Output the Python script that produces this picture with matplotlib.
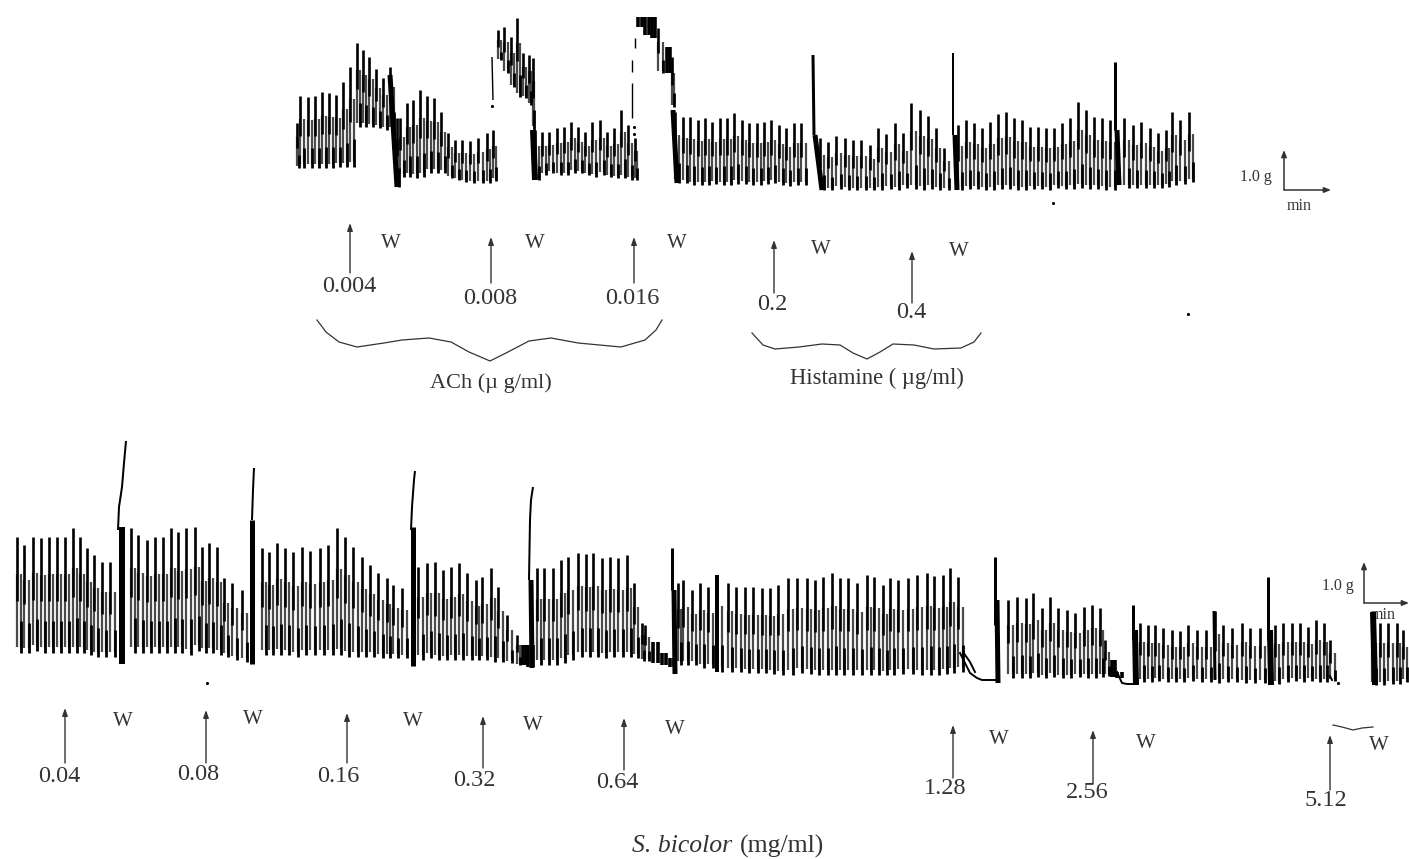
import matplotlib
matplotlib.use("Agg")
import matplotlib.pyplot as plt

# ---- upper recording (ACh / histamine): one beat = x, crest, trough (image units)
upper_x = [297,300,308,315,322,329,336,343,350,357,363,369,376,383,390,397,
           400,407,413,420,427,434,441,448,455,462,470,478,487,493,
           498,504,511,517,523,529,533,
           535,542,549,557,564,571,578,585,592,600,607,614,621,628,635,
           638,645,652,658,667,672,
           675,683,690,698,705,712,720,727,734,742,749,757,764,771,779,786,794,801,
           820,828,836,845,853,861,870,878,886,895,903,911,920,928,936,944,
           958,966,974,982,990,998,1006,1014,1022,1030,1038,1046,1054,1062,1070,1078,1086,1094,1102,1110,
           1124,1133,1141,1150,1158,1166,1172,1180,1189]
upper_hi = [123,96,97,96,92,93,95,82,67,43,50,57,69,78,67,118,
            118,103,100,90,96,98,112,133,140,140,141,138,133,130,
            30,27,37,18,53,55,58,
            130,132,132,128,127,122,127,132,122,120,132,128,110,125,138,
            17,17,17,28,47,57,
            112,117,117,120,118,122,118,118,113,120,123,123,122,120,125,128,123,123,
            138,142,136,138,140,140,145,128,134,123,133,103,110,116,128,148,
            125,120,123,128,122,114,112,118,120,127,127,128,128,123,118,102,110,117,118,120,
            118,125,122,128,133,130,112,120,112]
upper_lo = [168,168,168,168,168,168,167,167,167,127,127,127,128,130,130,187,
            177,177,178,177,173,173,173,178,180,182,183,183,183,181,
            60,73,87,97,98,105,130,
            180,175,173,175,175,173,173,175,177,175,177,178,178,180,180,
            27,35,38,73,73,107,
            183,183,185,185,185,184,185,185,184,184,185,185,184,183,185,186,185,185,
            190,190,189,190,190,190,190,190,189,190,188,189,190,189,190,190,
            190,189,189,190,190,189,189,190,190,189,189,190,188,189,189,188,189,189,190,190,
            188,188,188,188,188,187,185,184,182]

# ---- lower recording (S. bicolor)
lower_x = [17,24,33,41,49,57,65,73,80,87,94,102,110,
           131,138,147,155,163,171,178,186,195,202,209,217,224,232,242,
           262,269,277,285,293,302,310,320,328,337,345,353,362,370,378,387,393,402,
           418,427,435,443,451,459,467,476,482,491,498,507,517,523,528,
           537,544,553,561,568,578,586,593,602,610,618,627,634,642,645,653,662,670,
           678,683,692,700,708,717,728,736,745,753,762,770,778,788,797,807,815,823,832,840,848,
           857,867,874,883,890,898,908,917,927,934,943,950,958,
           1008,1017,1026,1033,1042,1050,1058,1067,1075,1084,1092,1100,1105,1112,1117,
           1140,1148,1155,1163,1172,1180,1188,1197,1206,1215,1223,1232,1242,1250,1260,
           1275,1283,1292,1300,1308,1316,1324,1330,
           1372,1380,1388,1397,1403]
lower_hi = [537,545,537,538,537,537,537,528,537,548,555,562,562,
            528,535,540,537,537,528,532,528,527,547,543,547,578,583,590,
            548,552,543,548,552,547,551,548,545,528,537,547,557,565,573,578,585,588,
            567,563,562,570,567,563,573,580,577,568,587,615,635,645,645,
            568,568,568,560,557,553,554,553,558,557,558,555,583,623,625,642,653,658,
            583,580,590,583,587,575,583,587,587,587,588,588,585,578,578,578,580,577,573,578,578,
            583,575,577,585,578,580,578,575,573,576,575,568,577,
            600,597,598,593,608,597,608,610,613,607,605,608,640,660,672,
            623,625,625,628,630,631,625,630,630,611,625,628,623,628,628,
            625,623,623,623,627,620,623,640,
            623,623,623,623,630]
lower_lo = [653,653,651,653,653,653,653,653,653,655,657,657,657,
            653,653,653,653,653,653,653,655,651,653,653,655,657,660,662,
            655,655,655,655,657,655,655,655,655,655,657,657,657,657,658,658,658,658,
            660,658,660,660,660,660,660,660,660,662,662,663,665,665,667,
            665,665,665,663,660,657,657,657,658,657,657,657,658,661,661,663,665,667,
            665,665,665,668,668,672,672,672,673,673,673,674,675,675,673,674,675,675,675,675,675,
            675,675,675,675,675,674,674,675,675,675,674,673,672,
            678,678,678,677,678,677,678,678,677,678,678,677,676,677,678,
            682,682,681,682,682,682,681,682,682,683,682,682,683,683,683,
            684,682,681,682,681,682,682,681,
            685,685,684,684,682]

# ---- recording pieces that are not ordinary beats (contracture rises, wash artefacts)
stroke_x = [[492,493],[632,632],[635,635],[632,632],[390,397],[533,535],[673,677],
            [813,814],[815,822],[953,953],[955,957],[1115,1115],[1117,1119],
            [126,124,122,119,118],[122,122],[254,253,252],[252,252],[415,414,412,411],[413,413],
            [533,531,530,529],[531,532],[672,672],[674,675],[717,717],
            [995,995],[997,998],[1133,1133],[1135,1136],[1268,1268],[1270,1271],[1214,1215],[1373,1375]]
stroke_y = [[57,100],[83,118],[38,48],[60,72],[75,187],[130,180],[110,183],
            [55,135],[135,190],[53,135],[135,190],[62,130],[130,185],
            [441,463,487,507,530],[527,664],[468,490,520],[520,664],[471,480,507,530],[527,666],
            [487,500,520,580],[580,668],[548,590],[590,674],[575,672],
            [557,625],[600,683],[605,640],[630,685],[577,640],[630,685],[611,680],[612,685]]
stroke_w = [1.4,1.4,1.4,1.4,5,6,5,
            3,5,2,5,3,5,
            2,6,2,5,2,5,
            2,5,3,5,4,
            3,5,3,6,3,6,3,6]

# baseline stretches after a wash
flat_x = [[960,970,977,982,995],[1117,1122,1127,1135],[963,970,975],[1330,1332]]
flat_y = [[653,673,678,680,680],[672,683,684,684],[652,662,672],[676,680]]
speck_x = [492,1053,1188,207,1338,634,634]
speck_y = [106,203,314,683,683,127,134]

# ---- annotations
top_doses = ["0.004","0.008","0.016","0.2","0.4"]
top_arrow_x = [350,491,634,774,912]
top_arrow_from = [273,283,283,293,303]
top_arrow_to = [223,237,237,240,251]
top_dose_x = [349,490,632,772,911]
top_dose_y = [286,299,299,304,313]
top_w_x = [391,535,677,821,959]
top_w_y = [243,243,243,250,252]

low_doses = ["0.04","0.08","0.16","0.32","0.64","1.28","2.56","5.12"]
low_arrow_x = [65,206,347,483,624,953,1093,1330]
low_arrow_from = [763,763,763,768,770,778,783,790]
low_arrow_to = [708,710,713,716,718,725,730,735]
low_dose_x = [59,198,338,474,617,945,1087,1326]
low_dose_y = [776,774,776,781,782,788,792,800]
low_w_x = [123,253,413,533,675,999,1146,1379]
low_w_y = [722,720,722,725,730,739,743,746]

brace1_x = [317,326,339,357,384,402,429,451,469,490,506,529,551,578,621,645,656,662]
brace1_y = [320,332,342,347,343,340,338,342,352,361,353,341,338,343,347,340,330,320]
brace2_x = [752,763,775,799,822,840,853,867,880,893,914,934,961,974,981]
brace2_y = [333,345,349,347,344,345,353,359,352,344,345,349,348,342,333]
squiggle_x = [1333,1342,1353,1362,1373]
squiggle_y = [725,727,730,728,727]

INK = "#333333"
plt.rcParams["font.family"] = ["Liberation Serif", "DejaVu Serif"]
fig = plt.figure(figsize=(14.09, 8.59), dpi=100)
ax = fig.add_axes([0, 0, 1, 1])
ax.set_xlim(0, 1409)
ax.set_ylim(859, 0)
ax.axis("off")


def draw_trace(xs, his, los):
    for i, (x, hi, lo) in enumerate(zip(xs, his, los)):
        gap = xs[i + 1] - x if i + 1 < len(xs) else 8
        half = min(gap, 9) / 2 if gap > 0 else 3
        h = lo - hi
        if h > 28:
            ax.vlines([x, x + half], hi + 0.32 * h, lo - 0.05 * h, color="#4a4a4a", lw=1.6, zorder=2)
            ax.vlines(x, hi, hi + 0.55 * h, color="black", lw=1.9, zorder=3)
            ax.vlines(x + half, lo - 0.28 * h, lo, color="black", lw=2.0, zorder=3)
        else:
            ax.vlines([x, x + half], hi, lo, color="black", lw=2.6, zorder=3)


draw_trace(upper_x, upper_hi, upper_lo)
draw_trace(lower_x, lower_hi, lower_lo)

for xs, ys, w in zip(stroke_x, stroke_y, stroke_w):
    ax.plot(xs, ys, color="black", lw=w * 0.72, solid_capstyle="butt", zorder=4)
for xs, ys in zip(flat_x, flat_y):
    ax.plot(xs, ys, color="black", lw=1.4, zorder=4)
ax.scatter(speck_x, speck_y, s=5, color="black", linewidths=0, zorder=4)


def up_arrow(x, y0, y1):
    ax.annotate("", xy=(x, y1), xytext=(x, y0),
                arrowprops=dict(arrowstyle="-|>,head_length=0.45,head_width=0.16",
                                color=INK, lw=1.0, shrinkA=0, shrinkB=0))


for d, ax_, y0, y1, dx, dy in zip(top_doses, top_arrow_x, top_arrow_from, top_arrow_to, top_dose_x, top_dose_y):
    up_arrow(ax_, y0, y1)
    ax.text(dx, dy, d, ha="center", va="center", fontsize=17.5, color=INK)
for d, ax_, y0, y1, dx, dy in zip(low_doses, low_arrow_x, low_arrow_from, low_arrow_to, low_dose_x, low_dose_y):
    up_arrow(ax_, y0, y1)
    ax.text(dx, dy, d, ha="center", va="center", fontsize=17.5, color=INK)
for x, y in list(zip(top_w_x, top_w_y)) + list(zip(low_w_x, low_w_y)):
    ax.text(x, y, "W", ha="center", va="center", fontsize=15, color=INK)

ax.plot(brace1_x, brace1_y, color=INK, lw=0.9)
ax.plot(brace2_x, brace2_y, color=INK, lw=0.9)
ax.plot(squiggle_x, squiggle_y, color=INK, lw=0.9)

ax.text(491, 383, "ACh (µ g/ml)", ha="center", va="center", fontsize=16, color=INK)
ax.text(877, 378, "Histamine ( µg/ml)", ha="center", va="center", fontsize=16.3, color=INK)
ax.text(732, 846, "S. bicolor", ha="right", va="center", fontsize=18.5, style="italic", color=INK)
ax.text(740, 846, "(mg/ml)", ha="left", va="center", fontsize=18.5, color=INK)


def scale_bar(x0, y0, x_end, y_top, lx, ly, mx, my):
    for end in ((x0, y_top), (x_end, y0)):
        ax.annotate("", xy=end, xytext=(x0, y0),
                    arrowprops=dict(arrowstyle="-|>,head_length=0.4,head_width=0.16",
                                    color=INK, lw=1.1, shrinkA=0, shrinkB=0))
    ax.text(lx, ly, "1.0 g", ha="center", va="center", fontsize=11.5, color=INK)
    ax.text(mx, my, "min", ha="center", va="center", fontsize=11.5, color=INK)


scale_bar(1284, 190, 1331, 150, 1256, 177, 1299, 206)
scale_bar(1364, 603, 1409, 562, 1338, 586, 1383, 615)

fig.savefig("out.png", dpi=100)
